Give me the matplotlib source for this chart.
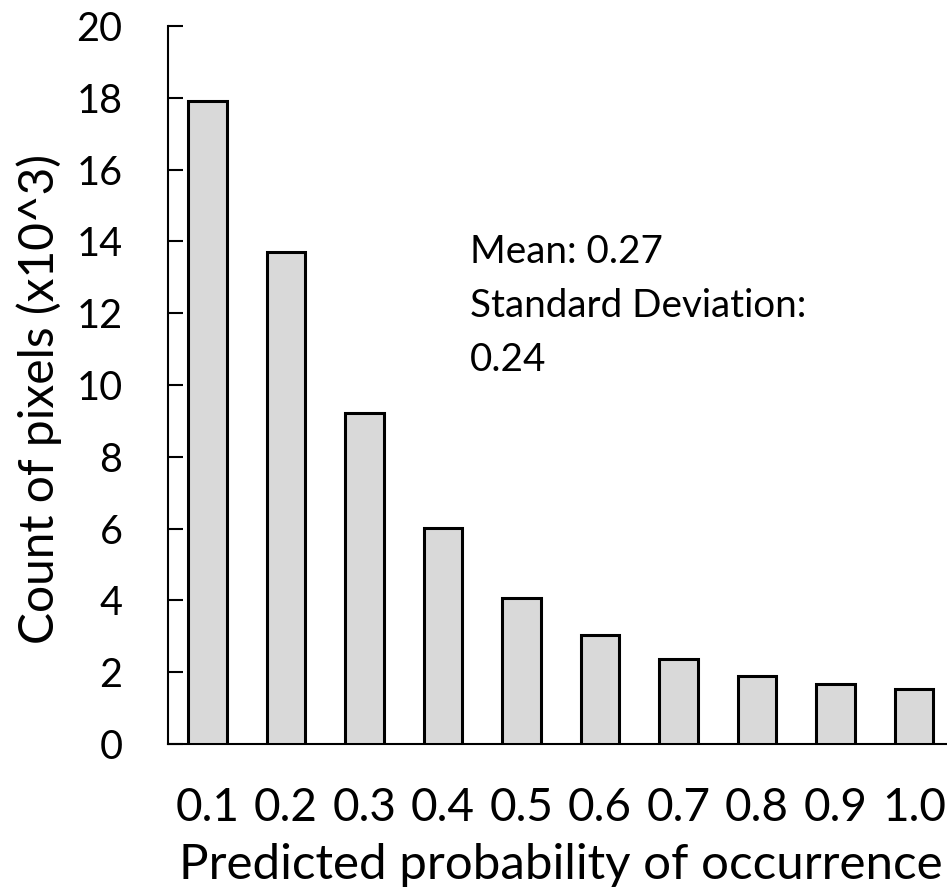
import matplotlib
matplotlib.use("Agg")
import matplotlib.pyplot as plt
import numpy as np

categories = ["0.1", "0.2", "0.3", "0.4", "0.5", "0.6", "0.7", "0.8", "0.9", "1.0"]
counts = [17.9, 13.7, 9.22, 6.02, 4.07, 3.04, 2.37, 1.89, 1.66, 1.53]
yticks = [0, 2, 4, 6, 8, 10, 12, 14, 16, 18, 20]
annotation = "Mean: 0.27\nStandard Deviation:\n0.24"

plt.rcParams['font.family'] = ['Lato', 'DejaVu Sans']

fig = plt.figure(figsize=(9.47, 8.96), dpi=100)
ax = fig.add_axes([168.3/947, 1-744/896, (953-168.3)/947, (744-26)/896])

x = np.arange(len(categories))
ax.bar(x, counts, width=0.49, color="#D9D9D9", edgecolor="black", linewidth=2.2, zorder=3)

ax.set_xlim(-0.5, len(categories) - 0.5)
ax.set_ylim(0, 20)
ax.set_xticks(x)
ax.set_xticklabels(categories)
ax.set_yticks(yticks)

for s in ["top", "right"]:
    ax.spines[s].set_visible(False)
for s in ["left", "bottom"]:
    ax.spines[s].set_linewidth(1.5)

ax.tick_params(axis="x", length=0, pad=31, labelsize=33)
ax.tick_params(axis="y", direction="in", length=11, width=1.5, pad=33, labelsize=28.5)

ax.set_ylabel("Count of pixels (x10^3)", fontsize=34.5, labelpad=10)
ax.yaxis.label.set_y(0.48)
ax.set_xlabel("Predicted probability of occurrence", fontsize=35.5, labelpad=10)

ax.text(3.34, 14.2, annotation, fontsize=27.8, va="top", ha="left", linespacing=1.62)

fig.savefig("out.png", dpi=100)
